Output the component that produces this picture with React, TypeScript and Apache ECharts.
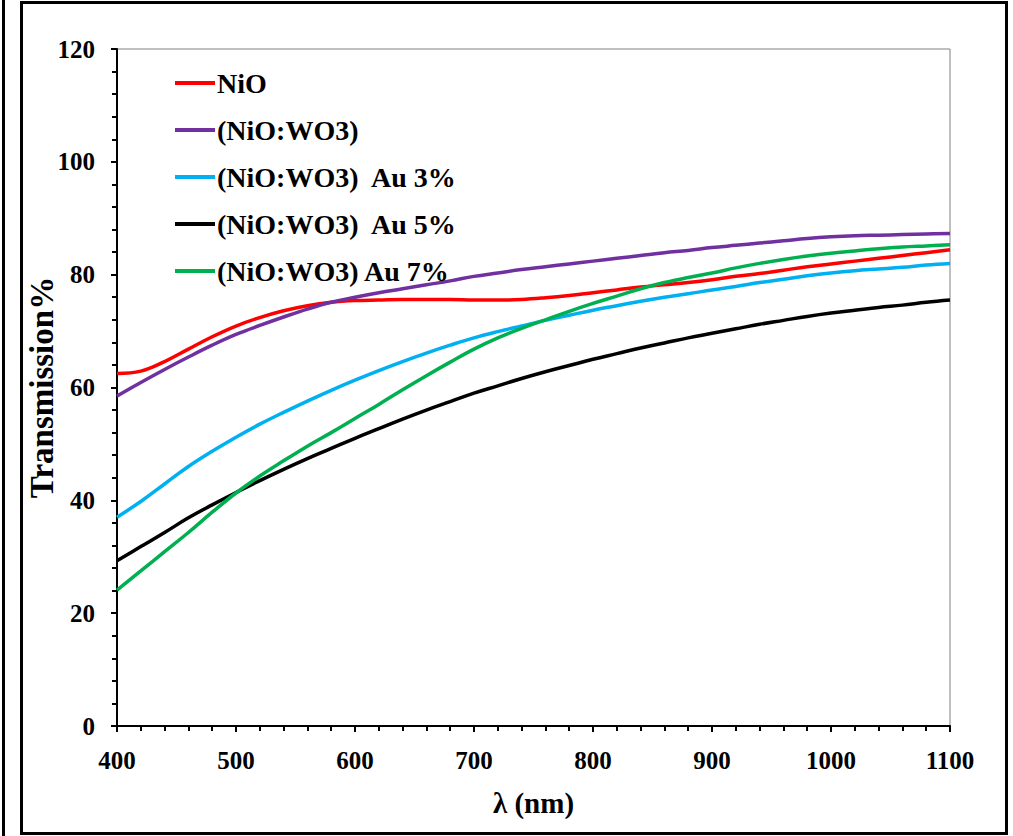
import React, { useEffect, useRef } from "react";
import * as echarts from "echarts";

const wavelengths = [400,420,440,460,480,500,520,540,560,580,600,620,640,660,680,700,720,740,760,780,800,820,840,860,880,900,920,940,960,980,1000,1020,1040,1060,1080,1100];

const nio = [62.5,62.9,64.6,66.8,69.0,70.9,72.4,73.6,74.5,75.1,75.4,75.5,75.6,75.6,75.6,75.5,75.5,75.6,75.9,76.3,76.8,77.3,77.8,78.2,78.6,79.1,79.7,80.2,80.8,81.4,81.9,82.4,82.9,83.4,83.9,84.4];
const nioWo3 = [58.5,60.9,63.2,65.4,67.5,69.4,71.0,72.5,73.9,75.1,76.0,76.8,77.5,78.2,78.9,79.7,80.3,80.9,81.4,81.9,82.4,82.9,83.4,83.9,84.3,84.8,85.2,85.6,86.0,86.4,86.7,86.9,87.0,87.1,87.2,87.3];
const au3 = [37.0,39.8,42.9,46.0,48.7,51.2,53.5,55.6,57.6,59.5,61.3,63.0,64.6,66.1,67.5,68.8,69.9,70.9,71.9,72.8,73.7,74.5,75.3,76.0,76.6,77.3,77.9,78.6,79.2,79.8,80.3,80.7,81.0,81.3,81.7,82.0];
const au5 = [29.3,31.8,34.3,36.9,39.2,41.4,43.5,45.5,47.4,49.2,51.0,52.7,54.4,56.0,57.5,59.0,60.3,61.6,62.8,63.9,65.0,66.0,67.0,67.9,68.8,69.6,70.4,71.2,71.9,72.6,73.2,73.7,74.2,74.6,75.1,75.5];
const au7 = [24.1,27.5,30.9,34.3,37.9,41.3,44.3,47.0,49.6,52.0,54.5,57.0,59.6,62.1,64.5,66.8,68.8,70.5,72.0,73.5,74.9,76.2,77.5,78.6,79.5,80.3,81.2,82.0,82.7,83.3,83.8,84.2,84.6,84.9,85.1,85.3];

const seriesNames = ["NiO", "(NiO:WO3)", "(NiO:WO3)  Au 3%", "(NiO:WO3)  Au 5%", "(NiO:WO3) Au 7%"];
const seriesColors = ["#FF0000", "#7030A0", "#00B0F0", "#000000", "#00B050"];
const seriesValues = [nio, nioWo3, au3, au5, au7];

const FONT = "'Liberation Serif', 'Times New Roman', serif";

export default function App() {
  const ref = useRef<HTMLDivElement>(null);
  useEffect(() => {
    document.body.style.margin = "0";
    const chart = echarts.init(ref.current!, null, { renderer: "svg" });
    chart.setOption({
      animation: false,
      backgroundColor: "#ffffff",
      grid: {
        left: 117, right: 63, top: 49, bottom: 110,
        show: true, borderColor: "#808080", borderWidth: 1,
      },
      legend: {
        orient: "vertical",
        left: 170,
        top: 64,
        itemWidth: 40,
        itemHeight: 4,
        itemGap: 19,
        icon: "rect",
        data: seriesNames,
        textStyle: { fontFamily: FONT, fontWeight: "bold", fontSize: 28, color: "#000", lineHeight: 28, padding: [0, 0, 0, -3] },
      },
      xAxis: {
        type: "value",
        min: 400, max: 1100, interval: 100,
        name: "λ (nm)",
        nameLocation: "middle",
        nameGap: 62,
        nameMoveOverlap: false,
        nameTextStyle: { fontFamily: FONT, fontWeight: "bold", fontSize: 29, color: "#000" },
        axisLine: { show: true, lineStyle: { color: "#000", width: 2 } },
        axisTick: { show: true, length: 6, lineStyle: { color: "#000", width: 2 } },
        minorTick: { show: true, splitNumber: 5, length: 5, lineStyle: { color: "#000", width: 2 } },
        splitLine: { show: false },
        axisLabel: { fontFamily: FONT, fontWeight: "bold", fontSize: 25, color: "#000", margin: 22, formatter: (v: number) => String(v) },
      },
      yAxis: {
        type: "value",
        min: 0, max: 120, interval: 20,
        name: "Transmission%",
        nameLocation: "middle",
        nameRotate: 90,
        nameGap: 59,
        nameMoveOverlap: false,
        nameTextStyle: { fontFamily: FONT, fontWeight: "bold", fontSize: 33, color: "#000" },
        axisLine: { show: true, lineStyle: { color: "#000", width: 2 } },
        axisTick: { show: true, length: 6, lineStyle: { color: "#000", width: 2 } },
        minorTick: { show: true, splitNumber: 5, length: 5, lineStyle: { color: "#000", width: 2 } },
        splitLine: { show: false },
        axisLabel: { fontFamily: FONT, fontWeight: "bold", fontSize: 25, color: "#000", margin: 22, formatter: (v: number) => String(v) },
      },
      series: seriesNames.map((name, i) => ({
        name,
        type: "line",
        data: wavelengths.map((w, j) => [w, seriesValues[i][j]]),
        showSymbol: false,
        symbol: "none",
        smooth: 0.4,
        itemStyle: { color: seriesColors[i] },
        lineStyle: { color: seriesColors[i], width: 3.5 },
      })),
      graphic: [
        { type: "rect", shape: { x: 21.5, y: 2.5, width: 985, height: 831 }, style: { fill: "none", stroke: "#000", lineWidth: 3 }, z: 100 },
        { type: "line", shape: { x1: 3.5, y1: 0, x2: 3.5, y2: 836 }, style: { stroke: "#000", lineWidth: 3 }, z: 100 },
      ],
    });
    return () => chart.dispose();
  }, []);
  return <div ref={ref} style={{ width: 1013, height: 836 }} />;
}
